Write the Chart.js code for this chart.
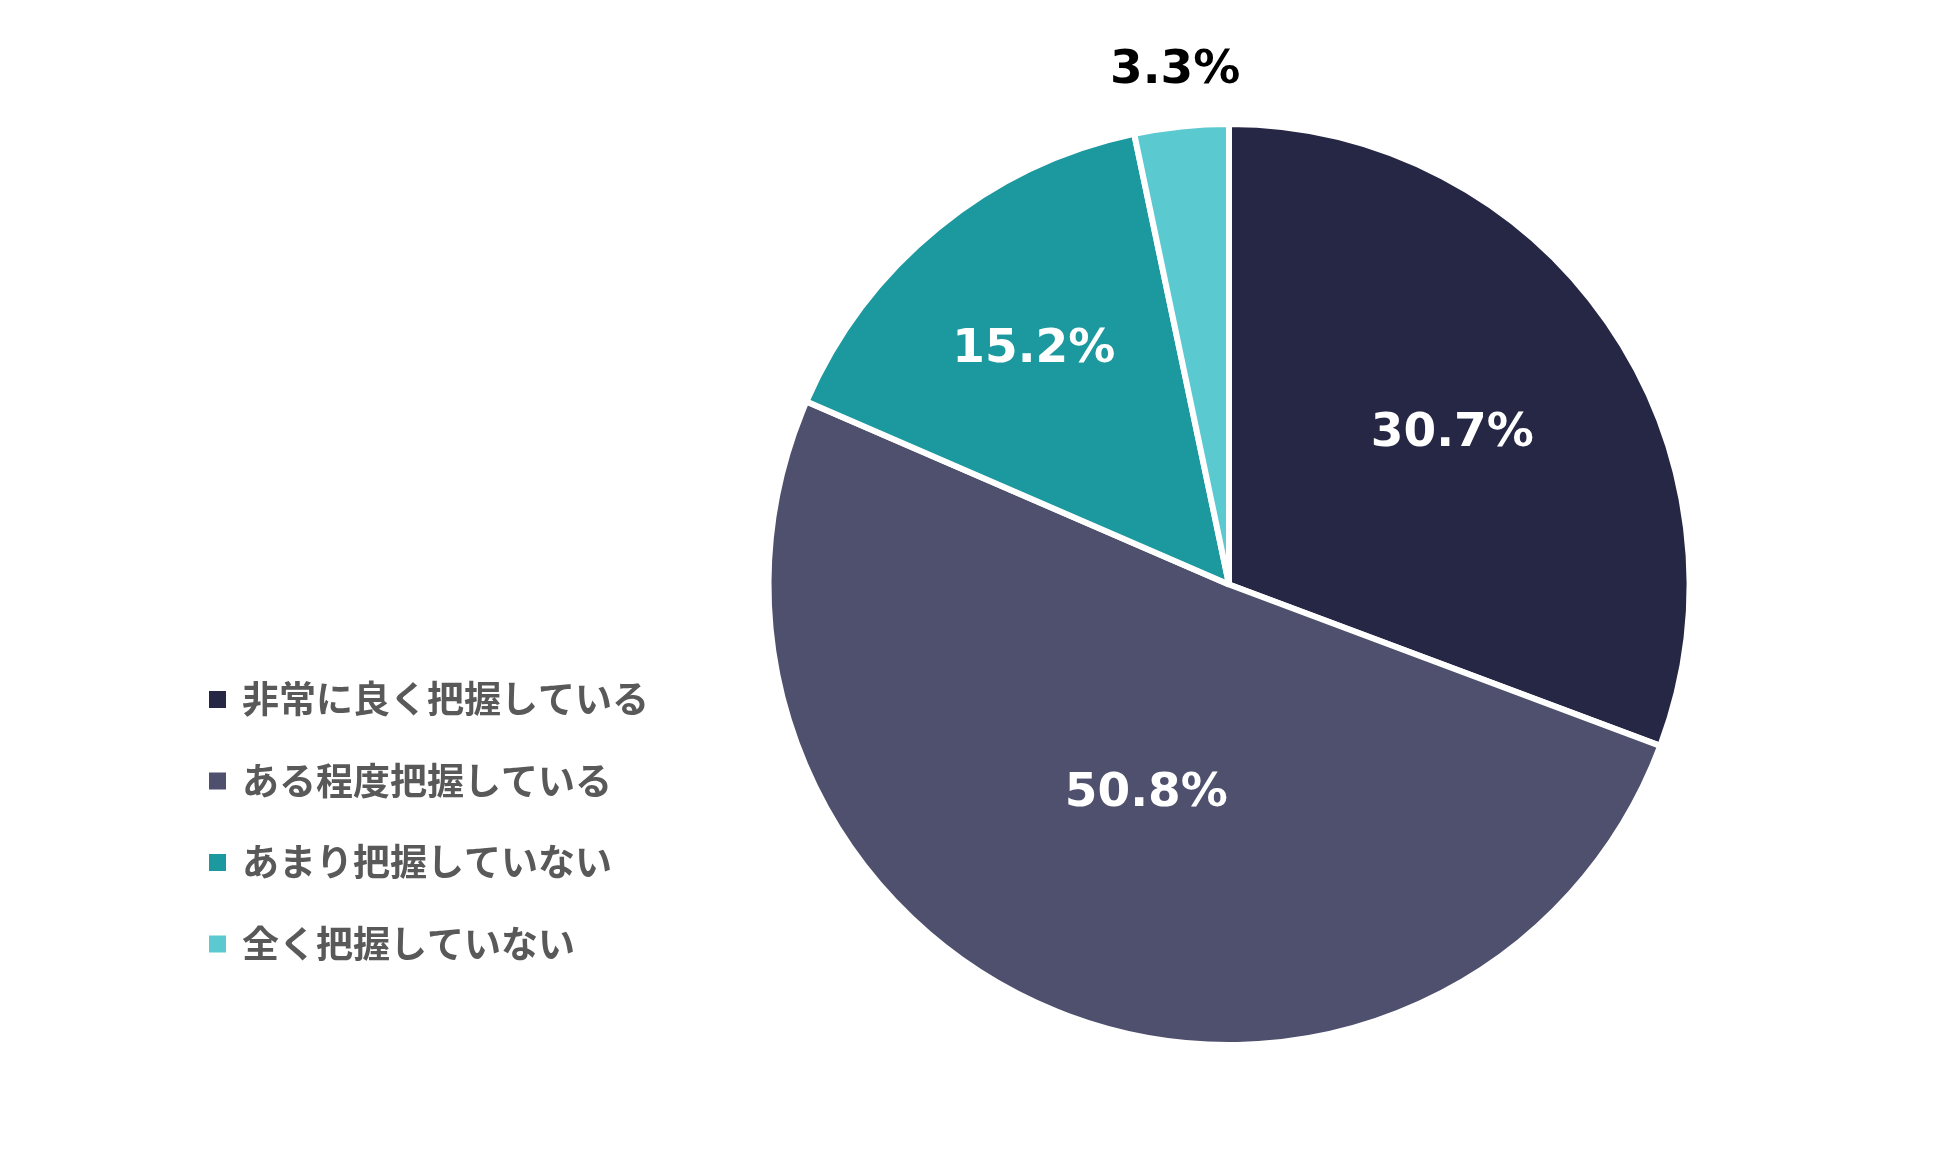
<!DOCTYPE html>
<html>
<head>
<meta charset="utf-8">
<script src="https://cdn.jsdelivr.net/npm/chart.js@4"></script>
<style>
  html, body { margin: 0; padding: 0; background: #fff; }
  canvas { display: block; }
</style>
</head>
<body>
<canvas id="chart" width="1949" height="1169"></canvas>
<script>
const labels = ["非常に良く把握している", "ある程度把握している", "あまり把握していない", "全く把握していない"];
const values = [30.7, 50.8, 15.2, 3.3];
const colors = ["#262745", "#4f4f6e", "#1b999f", "#5bc9d0"];

// where each value label sits, as a fraction of the radius, and its colour
const label_radius = [0.59, 0.48, 0.67, 1.13];
const label_colors = ["#ffffff", "#ffffff", "#ffffff", "#000000"];

const ctx = document.getElementById("chart");

const value_labels = {
    id: "value_labels",
    afterDatasetsDraw(chart) {
        const c = chart.ctx;
        const meta = chart.getDatasetMeta(0);
        c.save();
        c.font = "bold 47px 'DejaVu Sans'";
        c.textAlign = "center";
        c.textBaseline = "middle";
        meta.data.forEach((arc, i) => {
            const mid = (arc.startAngle + arc.endAngle) / 2;
            const r = arc.outerRadius * label_radius[i];
            c.fillStyle = label_colors[i];
            c.fillText(values[i].toFixed(1) + "%", arc.x + Math.cos(mid) * r, arc.y + Math.sin(mid) * r + 4);
        });
        c.restore();
    }
};

const side_legend = {
    id: "side_legend",
    afterDraw(chart) {
        const c = chart.ctx;
        c.save();
        c.font = "bold 37px 'Noto Sans CJK JP'";
        c.textBaseline = "middle";
        labels.forEach((label, i) => {
            const y = 699 + i * 81.5;
            c.fillStyle = colors[i];
            c.fillRect(209, y - 8, 17, 17);
            c.fillStyle = "#595959";
            c.fillText(label, 242, y);
        });
        c.restore();
    }
};

let chart = new Chart(ctx, {
    type: "pie",
    data: {
        labels: labels,
        datasets: [{
            data: values,
            backgroundColor: colors,
            borderColor: "#ffffff",
            borderWidth: 6
        }]
    },
    options: {
        responsive: false,
        animation: false,
        layout: {
            padding: { left: 765, right: 256, top: 121, bottom: 121 }
        },
        plugins: {
            legend: { display: false },
            tooltip: { enabled: false }
        }
    },
    plugins: [value_labels, side_legend]
});
</script>
</body>
</html>
